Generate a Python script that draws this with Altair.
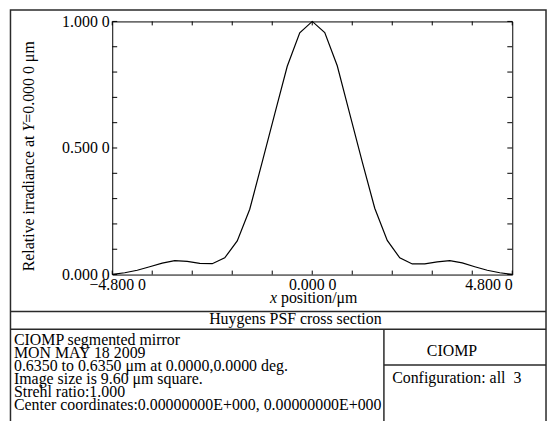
import altair as alt
import pandas as pd

# ---- data ----
x_pos = [-4.8, -4.5, -4.2, -3.9, -3.6, -3.3, -3.0, -2.7, -2.4, -2.1, -1.8, -1.5, -1.2, -0.9, -0.6, -0.3,
         0.0, 0.3, 0.6, 0.9, 1.2, 1.5, 1.8, 2.1, 2.4, 2.7, 3.0, 3.3, 3.6, 3.9, 4.2, 4.5, 4.8]
irradiance = [0.001, 0.007, 0.017, 0.031, 0.045, 0.055, 0.052, 0.044, 0.043, 0.066, 0.133, 0.258, 0.445,
              0.635, 0.823, 0.955, 1.0, 0.956, 0.825, 0.635, 0.445, 0.262, 0.135, 0.066, 0.042, 0.042,
              0.050, 0.055, 0.046, 0.031, 0.017, 0.007, 0.001]

x_tick_vals = [-4.8, 0.0, 4.8]
x_tick_labels = ["\u22124.800 0", "0.000 0", "4.800 0"]
y_tick_vals = [0.0, 0.5, 1.0]
y_tick_labels = ["0.000 0", "0.500 0", "1.000 0"]
x_minor = [-4.8, -3.84, -2.88, -1.92, -0.96, 0.0, 0.96, 1.92, 2.88, 3.84, 4.8]
y_minor = [0.0, 0.1, 0.2, 0.3, 0.4, 0.5, 0.6, 0.7, 0.8, 0.9, 1.0]

y_title_parts = ["Relative irradiance at", "Y", "=0.000 0 \u03bcm"]
x_title_parts = ["x", "position/\u03bcm"]
caption = "Huygens PSF cross section"
info_lines = [
    "CIOMP segmented mirror",
    "MON MAY 18 2009",
    "0.6350 to 0.6350 \u03bcm at 0.0000,0.0000 deg.",
    "Image size is 9.60 \u03bcm square.",
    "Strehl ratio:1.000",
    "Center coordinates:0.00000000E+000, 0.00000000E+000",
]
right_top = "CIOMP"
right_bottom = "Configuration: all\u00a0 3"

FONT = "Liberation Serif"
W, H = 403, 255


def label_expr(vals, labels):
    expr = "''"
    for v, l in zip(reversed(vals), reversed(labels)):
        expr = f"datum.value === {v} ? '{l}' : ({expr})"
    return expr


xscale = alt.Scale(domain=[-4.8, 4.8], nice=False, zero=False)
yscale = alt.Scale(domain=[0, 1], nice=False, zero=False)

xaxis = alt.Axis(values=x_tick_vals, labelExpr=label_expr(x_tick_vals, x_tick_labels), title=None,
                 ticks=False, domain=False, grid=False, labelPadding=2, labelFont=FONT, labelFontSize=16,
                 labelColor="black",
                 labelAlign={"condition": {"test": "datum.value === 4.8", "value": "right"}, "value": "center"},
                 labelOffset={"condition": {"test": "datum.value === -4.8", "value": 5}, "value": 0})
yaxis = alt.Axis(values=y_tick_vals, labelExpr=label_expr(y_tick_vals, y_tick_labels), title=None,
                 ticks=False, domain=False, grid=False, labelPadding=3, labelFont=FONT, labelFontSize=16,
                 labelColor="black")

X = lambda: alt.X("x:Q", scale=xscale, axis=xaxis)
Y = lambda: alt.Y("y:Q", scale=yscale, axis=yaxis)

df = pd.DataFrame({"x": x_pos, "y": irradiance})
line = alt.Chart(df).mark_line(color="black", strokeWidth=1.2).encode(x=X(), y=Y())

xt = pd.DataFrame({"x": x_minor})
yt = pd.DataFrame({"y": y_minor})
tick_b = alt.Chart(xt).mark_rule(color="black").encode(x=X(), y=alt.value(H), y2=alt.value(H - 4))
tick_t = alt.Chart(xt).mark_rule(color="black").encode(x=X(), y=alt.value(0), y2=alt.value(4))
tick_l = alt.Chart(yt).mark_rule(color="black").encode(y=Y(), x=alt.value(0), x2=alt.value(5))
tick_r = alt.Chart(yt).mark_rule(color="black").encode(y=Y(), x=alt.value(W), x2=alt.value(W - 5))

one = pd.DataFrame({"a": [0]})
BOX_L, BOX_R, BOX_T = -102.5, 437, -11.5
LINE1, LINE2, VDIV, HDIV = 292.3, 310, 273.7, 346
GRAY = "#2a2a2a"


def hrule(y, x1, x2):
    return alt.Chart(one).mark_rule(color=GRAY, strokeWidth=1.5).encode(
        x=alt.value(x1), x2=alt.value(x2), y=alt.value(y), y2=alt.value(y))


def text(t, x, y, align="left", style="normal", angle=0, lh=None):
    kw = dict(font=FONT, fontSize=16, color="black", align=align, baseline="alphabetic",
              fontStyle=style, angle=angle)
    if lh:
        kw["lineHeight"] = lh
    return alt.Chart(one).mark_text(**kw).encode(x=alt.value(x), y=alt.value(y), text=alt.value(t))


border = alt.Chart(one).mark_rect(fillOpacity=0, stroke=GRAY, strokeWidth=1.5).encode(
    x=alt.value(BOX_L), x2=alt.value(BOX_R), y=alt.value(BOX_T), y2=alt.value(420))
rules = [
    hrule(LINE1, BOX_L, BOX_R),
    hrule(LINE2, BOX_L, BOX_R),
    hrule(HDIV, VDIV, BOX_R),
    alt.Chart(one).mark_rule(color=GRAY, strokeWidth=1.5).encode(
        x=alt.value(VDIV), x2=alt.value(VDIV), y=alt.value(LINE2), y2=alt.value(420)),
]

texts = [
    text(y_title_parts[0], -78.5, 251.7, angle=270),
    text(y_title_parts[1], -78.5, 110.9, angle=270, style="italic"),
    text(y_title_parts[2], -78.5, 102.0, angle=270),
    text(x_title_parts[0], 158.9, 283.5, style="italic"),
    text(x_title_parts[1], 170.0, 283.5),
    text(caption, 184.5, 305.0, align="center"),
    text(info_lines, -99, 326.0, lh=13.1),
    text(right_top, 342.3, 336.7, align="center"),
    text(right_bottom, 282, 364.0),
]

chart = alt.layer(border, *rules, line, tick_b, tick_t, tick_l, tick_r, *texts).properties(
    width=W, height=H, autosize="none",
    padding={"left": 105, "top": 12, "right": 36, "bottom": 146},
    background="white",
).configure_view(stroke="black", strokeWidth=1)

chart.save("out.html", embed_options={"renderer": "svg", "actions": False})
